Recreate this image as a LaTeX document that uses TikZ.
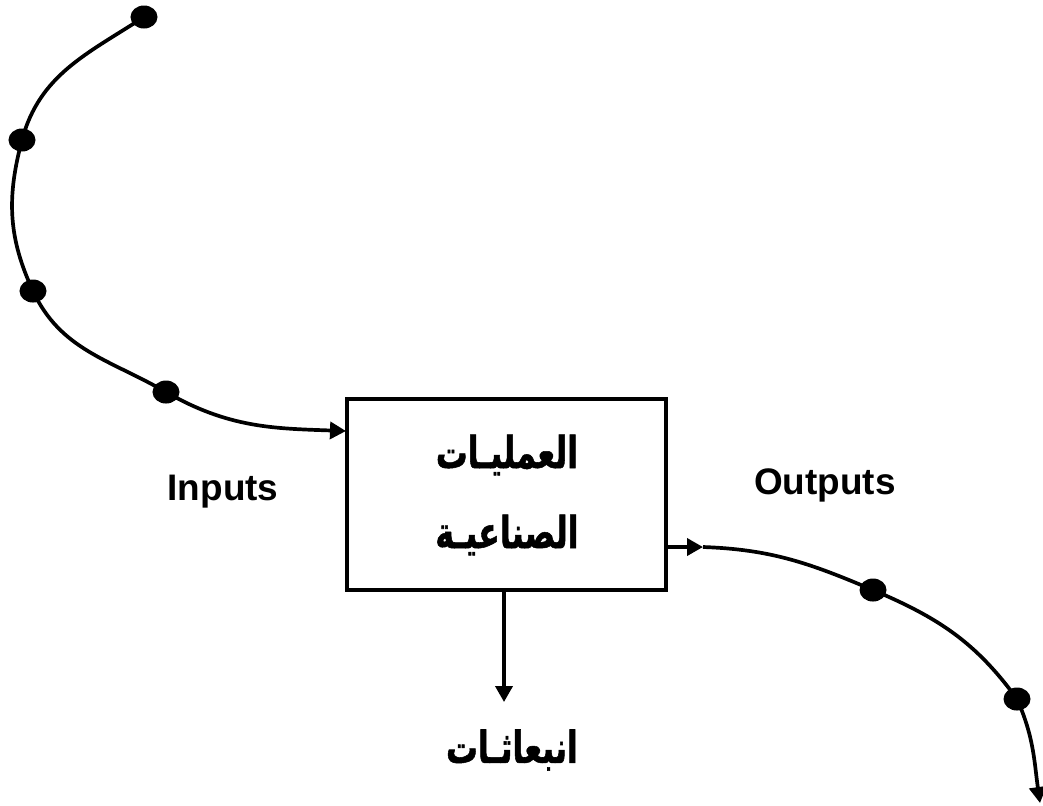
\documentclass[tikz,border=0pt]{standalone}
\usepackage{fontspec}
\setmainfont{Liberation Sans}
\newfontfamily\arabicfont[Script=Arabic,FakeStretch=0.72,FakeBold=1.2]{DejaVu Sans}
\TeXXeTstate=1
\usetikzlibrary{arrows.meta,shapes.geometric}
\begin{document}
\begin{tikzpicture}[x=0.01cm,y=-0.01cm,
  lw/.style={line width=1.05pt},
  dotnode/.style={ellipse,fill=black,inner sep=0pt,minimum width=0.27cm,minimum height=0.23cm},
  tip/.style={-{Triangle[length=0.16cm,width=0.17cm]}},
  lbl/.style={font=\fontsize{10.5}{12}\selectfont\bfseries},
  arlbl/.style={font=\fontsize{12.5}{15}\selectfont\arabicfont\bfseries}]
\useasboundingbox (0,0) rectangle (1043,805);
% box
\node[draw,lw,minimum width=3.19cm,minimum height=1.91cm,inner sep=0pt] (box) at (506.5,494.5) {};
\node[arlbl] (t1) at (507,455) {\beginR العمليـات\endR};
\node[arlbl] (t2) at (507,535) {\beginR الصناعيـة\endR};
% left curve dots
\node[dotnode] (a1) at (144,17) {};
\node[dotnode] (a2) at (22,140) {};
\node[dotnode] (a3) at (33,291) {};
\node[dotnode] (a4) at (166,392) {};
\coordinate (ain) at (346,431);
\draw[lw] (a1.center) to[out=213,in=75] (a2.center);
\draw[lw] (a2.center) to[out=255,in=115] (a3.center);
\draw[lw] (a3.center) to[out=295,in=150] (a4.center);
\draw[lw,tip] (a4.center) to[out=330,in=178] (ain);
% right curve
\coordinate (bout) at (666,547);
\coordinate (b0) at (703,547);
\node[dotnode] (b1) at (873,590) {};
\node[dotnode] (b2) at (1017,699) {};
\coordinate (bend) at (1040,803);
\draw[lw,tip] (bout) -- (b0);
\draw[lw] (b0) to[out=-2,in=157] (b1.center);
\draw[lw] (b1.center) to[out=-23,in=126] (b2.center);
\draw[lw,tip] (b2.center) to[out=-66,in=98] (bend);
% down arrow
\coordinate (dtop) at (504,590);
\coordinate (dtip) at (504,702);
\draw[lw,tip] (dtop) -- (dtip);
\node[arlbl] (t3) at (512,750) {\beginR انبعاثـات\endR};
% labels
\node[lbl] (inp) at (223,492) {Inputs};
\node[lbl] (outp) at (825,485) {Outputs};
\end{tikzpicture}
\end{document}
